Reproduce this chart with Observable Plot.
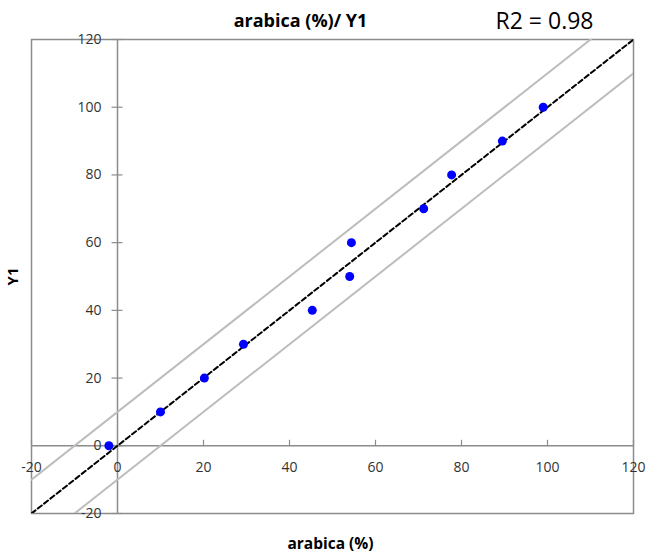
<!DOCTYPE html>
<html><head><meta charset="utf-8">
<script src="https://cdn.jsdelivr.net/npm/d3@7"></script>
<script src="https://cdn.jsdelivr.net/npm/@observablehq/plot@0.6"></script>
<style>body{margin:0;background:#fff;font-family:"Open Sans",sans-serif}</style>
</head><body><div id="chart"></div>
<script>
const arabica = [-2, 10, 20.2, 29.3, 45.3, 54, 54.4, 71.2, 77.7, 89.5, 99];
const y1 = [0, 10, 20, 30, 40, 50, 60, 70, 80, 90, 100];
const ticks = [-20, 0, 20, 40, 60, 80, 100, 120];
const lineX = [-20, 120];
const upperY = [-10, 130];
const lowerY = [-30, 110];
const title = "arabica (%)/ Y1";
const r2Label = "R2 = 0.98";
const xLabel = "arabica (%)";
const yLabel = "Y1";

const points = arabica.map((x, i) => ({x, y: y1[i]}));
const fit = lineX.map((x) => ({x, y: x}));
const up = lineX.map((x, i) => ({x, y: upperY[i]}));
const lo = lineX.map((x, i) => ({x, y: lowerY[i]}));

const hTick = {draw(ctx) { ctx.moveTo(-6, 0); ctx.lineTo(5, 0); }};
const vTick = {draw(ctx) { ctx.moveTo(0, 0); ctx.lineTo(0, -6); }};
const gray = "#8c8c8c";

const chart = Plot.plot({
  width: 647, height: 553,
  marginLeft: 31, marginRight: 14, marginTop: 39, marginBottom: 40,
  x: {domain: [-20, 120], axis: null},
  y: {domain: [-20, 120], axis: null},
  style: {fontFamily: "'Open Sans', sans-serif", background: "#fff"},
  marks: [
    Plot.frame({stroke: gray, strokeWidth: 1.5}),
    Plot.ruleX([0], {stroke: gray, strokeWidth: 1.5}),
    Plot.ruleY([0], {stroke: gray, strokeWidth: 1.5}),
    Plot.dot(ticks, {x: 0, y: d => d, symbol: hTick, stroke: gray, strokeWidth: 1.2, fill: "none"}),
    Plot.dot(ticks, {x: d => d, y: 0, symbol: vTick, stroke: gray, strokeWidth: 1.2, fill: "none"}),
    Plot.line(up, {x: "x", y: "y", stroke: "#bdbdbd", strokeWidth: 2, clip: true}),
    Plot.line(lo, {x: "x", y: "y", stroke: "#bdbdbd", strokeWidth: 2, clip: true}),
    Plot.line(fit, {x: "x", y: "y", stroke: "#000", strokeWidth: 2, strokeDasharray: "5,3", clip: true}),
    Plot.text(ticks, {x: 0, y: d => d, text: d => String(d), textAnchor: "end", dx: -16, fontSize: 14, fill: "#333"}),
    Plot.text(ticks, {x: d => d, y: 0, text: d => String(d), dy: 22, fontSize: 14, fill: "#333"}),
    Plot.dot(points, {x: "x", y: "y", r: 4.5, fill: "#0000ff", stroke: "none"}),
    Plot.text([title], {frameAnchor: "top", textAnchor: "middle", lineAnchor: "bottom", dx: -32, dy: -13, fontSize: 18, fontWeight: "bold", fill: "#000"}),
    Plot.text([r2Label], {frameAnchor: "top-right", textAnchor: "middle", lineAnchor: "bottom", dx: -89, dy: -11, fontSize: 23, fill: "#000"}),
    Plot.text([xLabel], {frameAnchor: "bottom", textAnchor: "middle", lineAnchor: "bottom", dx: -2, dy: 35, fontSize: 15.5, fontWeight: "bold", fill: "#000"}),
    Plot.text([yLabel], {frameAnchor: "left", textAnchor: "middle", dx: -18, dy: 0, rotate: -90, fontSize: 15, fontWeight: "bold", fill: "#000"})
  ]
});
document.getElementById("chart").appendChild(chart);
</script></body></html>
